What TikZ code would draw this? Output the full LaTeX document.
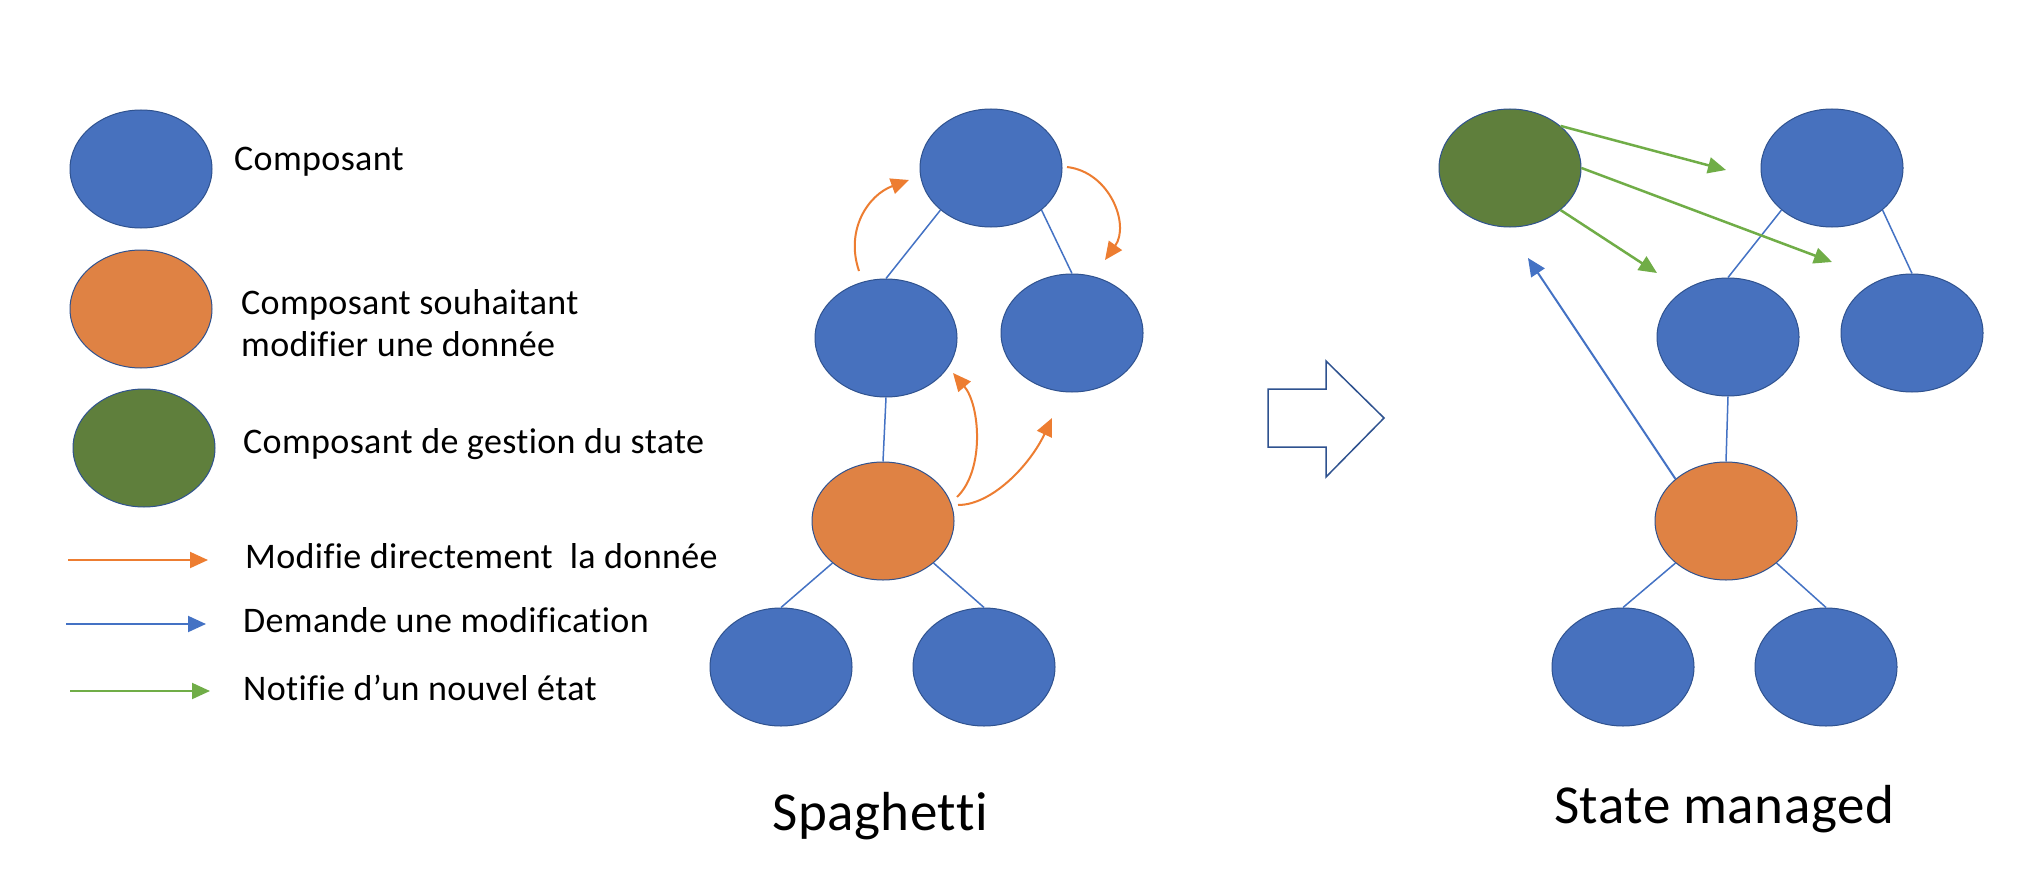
\documentclass[tikz,border=0pt]{standalone}
\usepackage{fontspec}
\setmainfont{Carlito}[Ligatures=NoCommon,LetterSpace=1]
\usetikzlibrary{shapes.geometric,arrows.meta,calc}
\definecolor{nblue}{HTML}{4771BE}
\definecolor{nedge}{HTML}{2F528F}
\definecolor{norange}{HTML}{DF8244}
\definecolor{ngreen}{HTML}{5F7F3C}
\definecolor{aorange}{HTML}{ED7D31}
\definecolor{agreen}{HTML}{70AD47}
\definecolor{ablue}{HTML}{4472C4}
\begin{document}
\begin{tikzpicture}[x=1pt,y=-1pt,
  comp/.style={ellipse,minimum width=142pt,minimum height=118pt,inner sep=0pt,draw=nedge,line width=1pt},
  bluec/.style={comp,fill=nblue},
  orangec/.style={comp,fill=norange},
  greenc/.style={comp,fill=ngreen},
  treelink/.style={draw=ablue,line width=1.5pt},
  arrowtip/.style={-{Triangle[length=18pt,width=16pt]}},
  modarrow/.style={arrowtip,draw=aorange,line width=2pt},
  reqarrow/.style={arrowtip,draw=ablue,line width=2pt},
  notarrow/.style={arrowtip,draw=agreen,line width=2.5pt},
  legtext/.style={anchor=base west,font=\fontsize{36}{42}\selectfont,inner sep=0pt},
  titletext/.style={anchor=base,font=\fontsize{55}{66}\selectfont,inner sep=0pt}]
\useasboundingbox (0,0) rectangle (2034,880);
\fill[white] (0,0) rectangle (2034,880);

% ---------- legend ----------
\node[bluec]   (lb) at (141,169) {};
\node[orangec] (lo) at (141,309) {};
\node[greenc]  (lg) at (144,448) {};
\node[legtext] (tb)  at (234,170) {Composant};
\node[legtext] (to1) at (241,314) {Composant souhaitant};
\node[legtext] (to2) at (241,356) {modifier une donnée};
\node[legtext] (tg)  at (243,453) {Composant de gestion du state};
\coordinate (la1) at (68,560);  \coordinate (lb1) at (208,560);
\coordinate (la2) at (66,624);  \coordinate (lb2) at (206,624);
\coordinate (la3) at (70,691);  \coordinate (lb3) at (210,691);
\draw[modarrow] (la1) -- (lb1);
\draw[reqarrow] (la2) -- (lb2);
\draw[notarrow,line width=2pt] (la3) -- (lb3);
\node[legtext] (t1) at (245,568) {Modifie directement\ \ la donnée};
\node[legtext] (t2) at (243,632) {Demande une modification};
\node[legtext] (t3) at (243,700) {Notifie d’un nouvel état};

% ---------- spaghetti ----------
\node[bluec]   (s1) at (991,168) {};
\node[bluec]   (s2) at (886,338) {};
\node[bluec]   (s3) at (1072,333) {};
\node[orangec] (s4) at (883,521) {};
\node[bluec]   (s5) at (781,667) {};
\node[bluec]   (s6) at (984,667) {};
\draw[treelink] (s1.south west) -- (s2.north);
\draw[treelink] (s1.south east) -- (s3.north);
\draw[treelink] (s2.south) -- (s4.north);
\draw[treelink] (s4.south west) -- (s5.north);
\draw[treelink] (s4.south east) -- (s6.north);

\coordinate (o1s) at (859,271);  \coordinate (o1e) at (909,180);
\coordinate (o1a) at (845,230);  \coordinate (o1b) at (868,195);
\coordinate (o2s) at (1067,167); \coordinate (o2e) at (1105,260);
\coordinate (o2a) at (1110,172); \coordinate (o2b) at (1130,225);
\coordinate (o3s) at (957,497);  \coordinate (o3e) at (953,373);
\coordinate (o3a) at (985,470);  \coordinate (o3b) at (980,405);
\coordinate (o4s) at (958,505);  \coordinate (o4e) at (1052,418);
\coordinate (o4a) at (992,505);  \coordinate (o4b) at (1030,465);
\draw[modarrow] (o1s) .. controls (o1a) and (o1b) .. (o1e);
\draw[modarrow] (o2s) .. controls (o2a) and (o2b) .. (o2e);
\draw[modarrow] (o3s) .. controls (o3a) and (o3b) .. (o3e);
\draw[modarrow] (o4s) .. controls (o4a) and (o4b) .. (o4e);

\node[titletext] (ts) at (880,830) {Spaghetti};

% ---------- big arrow ----------
\draw[draw=nedge,line width=1.5pt,fill=white,line join=miter]
  (1268,389) -- (1326,389) -- (1326,361) -- (1384,418) -- (1326,477) -- (1326,447) -- (1268,447) -- cycle;

% ---------- state managed ----------
\node[greenc]  (g)  at (1510,168) {};
\node[bluec]   (m1) at (1832,168) {};
\node[bluec]   (m2) at (1728,337) {};
\node[bluec]   (m3) at (1912,333) {};
\node[orangec] (m4) at (1726,521) {};
\node[bluec]   (m5) at (1623,667) {};
\node[bluec]   (m6) at (1826,667) {};
\draw[treelink] (m1.south west) -- (m2.north);
\draw[treelink] (m1.south east) -- (m3.north);
\draw[treelink] (m2.south) -- (m4.north);
\draw[treelink] (m4.south west) -- (m5.north);
\draw[treelink] (m4.south east) -- (m6.north);

\coordinate (n1) at (1726,170);
\coordinate (n2) at (1832,262);
\coordinate (n3) at (1657,273);
\coordinate (rq) at (1528,258);
\draw[notarrow] (g.north east) -- (n1);
\draw[notarrow] (g.east) -- (n2);
\draw[notarrow] (g.south east) -- (n3);
\draw[reqarrow] (m4.north west) -- (rq);

\node[titletext] (tm) at (1724,823) {State managed};
\end{tikzpicture}
\end{document}
